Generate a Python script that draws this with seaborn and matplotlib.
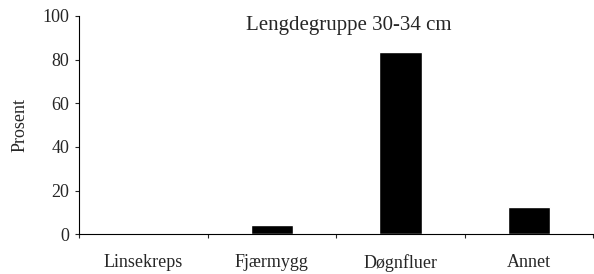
import matplotlib
matplotlib.use("Agg")
import matplotlib.pyplot as plt
import seaborn as sns
import pandas as pd
from matplotlib.ticker import FixedLocator

# Données
categories = ["Linsekreps", "Fjærmygg", "Døgnfluer", "Annet"]
prosent = [0.0, 4.3, 83.3, 12.5]
title = "Lengdegruppe 30-34 cm"

df = pd.DataFrame({"kategori": categories, "prosent": prosent})

sns.set_style("white")
plt.rcParams["font.family"] = ["Liberation Serif", "DejaVu Serif"]

fig = plt.figure(figsize=(5.94, 2.74), dpi=100)
ax = fig.add_axes([0.133, 0.145, 0.866, 0.797])

sns.barplot(data=df, x="kategori", y="prosent", color="black", width=0.33,
            saturation=1, ax=ax)

ax.set_ylim(0, 100)
ax.set_xlim(-0.5, 3.5)
ax.set_yticks([0, 20, 40, 60, 80, 100])
ax.set_xlabel("")
ax.set_ylabel("Prosent", fontsize=13, labelpad=10)

# Ticks entre les catégories
ax.xaxis.set_minor_locator(FixedLocator([-0.5, 0.5, 1.5, 2.5, 3.5]))
ax.tick_params(axis="x", which="major", length=0, labelsize=13, pad=14)
ax.tick_params(axis="x", which="minor", length=3, width=0.8, direction="out", bottom=True)
ax.tick_params(axis="y", length=3, width=0.8, direction="out", left=True, labelsize=13, pad=4)

for side in ["top", "right"]:
    ax.spines[side].set_visible(False)
for side in ["left", "bottom"]:
    ax.spines[side].set_color("black")
    ax.spines[side].set_linewidth(0.8)

ax.text(0.525, 0.955, title, transform=ax.transAxes, ha="center", va="center", fontsize=15)

fig.savefig("out.png", dpi=100)
